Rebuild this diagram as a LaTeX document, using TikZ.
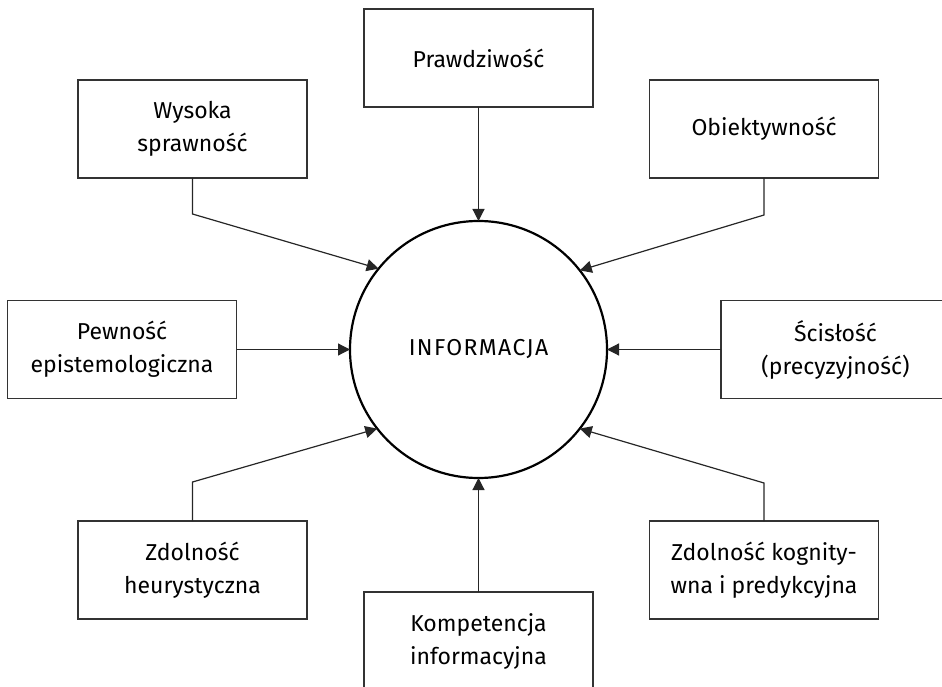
\documentclass[tikz,border=0pt]{standalone}
\usepackage{fontspec}
\setmainfont{Fira Sans}
\usetikzlibrary{arrows.meta}
\begin{document}
\begin{tikzpicture}[x=1pt,y=-1pt,
  box/.style={draw=black!80, line width=1.3pt, minimum width=229pt, minimum height=98pt, inner sep=0pt, outer sep=0pt, align=center, font=\fontsize{23}{33}\selectfont},
  hub/.style={circle, draw=black, line width=2.2pt, minimum size=257pt, inner sep=0pt, outer sep=0pt, font=\fontsize{23}{27}\selectfont\addfontfeatures{LetterSpace=6}},
  conn/.style={draw=black!85, line width=1.2pt, -{Triangle[length=12pt,width=12pt]}}]
\clip (0,0) rectangle (942,687);
\node[hub] (c) at (478.5,349.5) {INFORMACJA};
\node[box] (p) at (478.5,58) {Prawdziwość};
\node[box] (w) at (192.5,129) {Wysoka\\sprawność};
\node[box] (o) at (764,129) {Obiektywność};
\node[box] (e) at (122,349.5) {Pewność\\epistemologiczna};
\node[box] (s) at (835.5,349.5) {Ścisłość\\(precyzyjność)};
\node[box] (h) at (192.5,570) {Zdolność\\heurystyczna};
\node[box] (k) at (764,570) {Zdolność kognity-\\wna i predykcyjna};
\node[box] (m) at (478.5,641) {Kompetencja\\informacyjna};
\draw[conn] (p.south) -- (c.north);
\draw[conn] (e.east) -- (c.west);
\draw[conn] (s.west) -- (c.east);
\draw[conn] (m.north) -- (c.south);
\draw[conn] (w.south) -- ++(0,36) -- (c.141.7);
\draw[conn] (o.south) -- ++(0,37) -- (c.38.3);
\draw[conn] (h.north) -- ++(0,-39) -- (c.218.3);
\draw[conn] (k.north) -- ++(0,-38) -- (c.-38.3);
\end{tikzpicture}
\end{document}
